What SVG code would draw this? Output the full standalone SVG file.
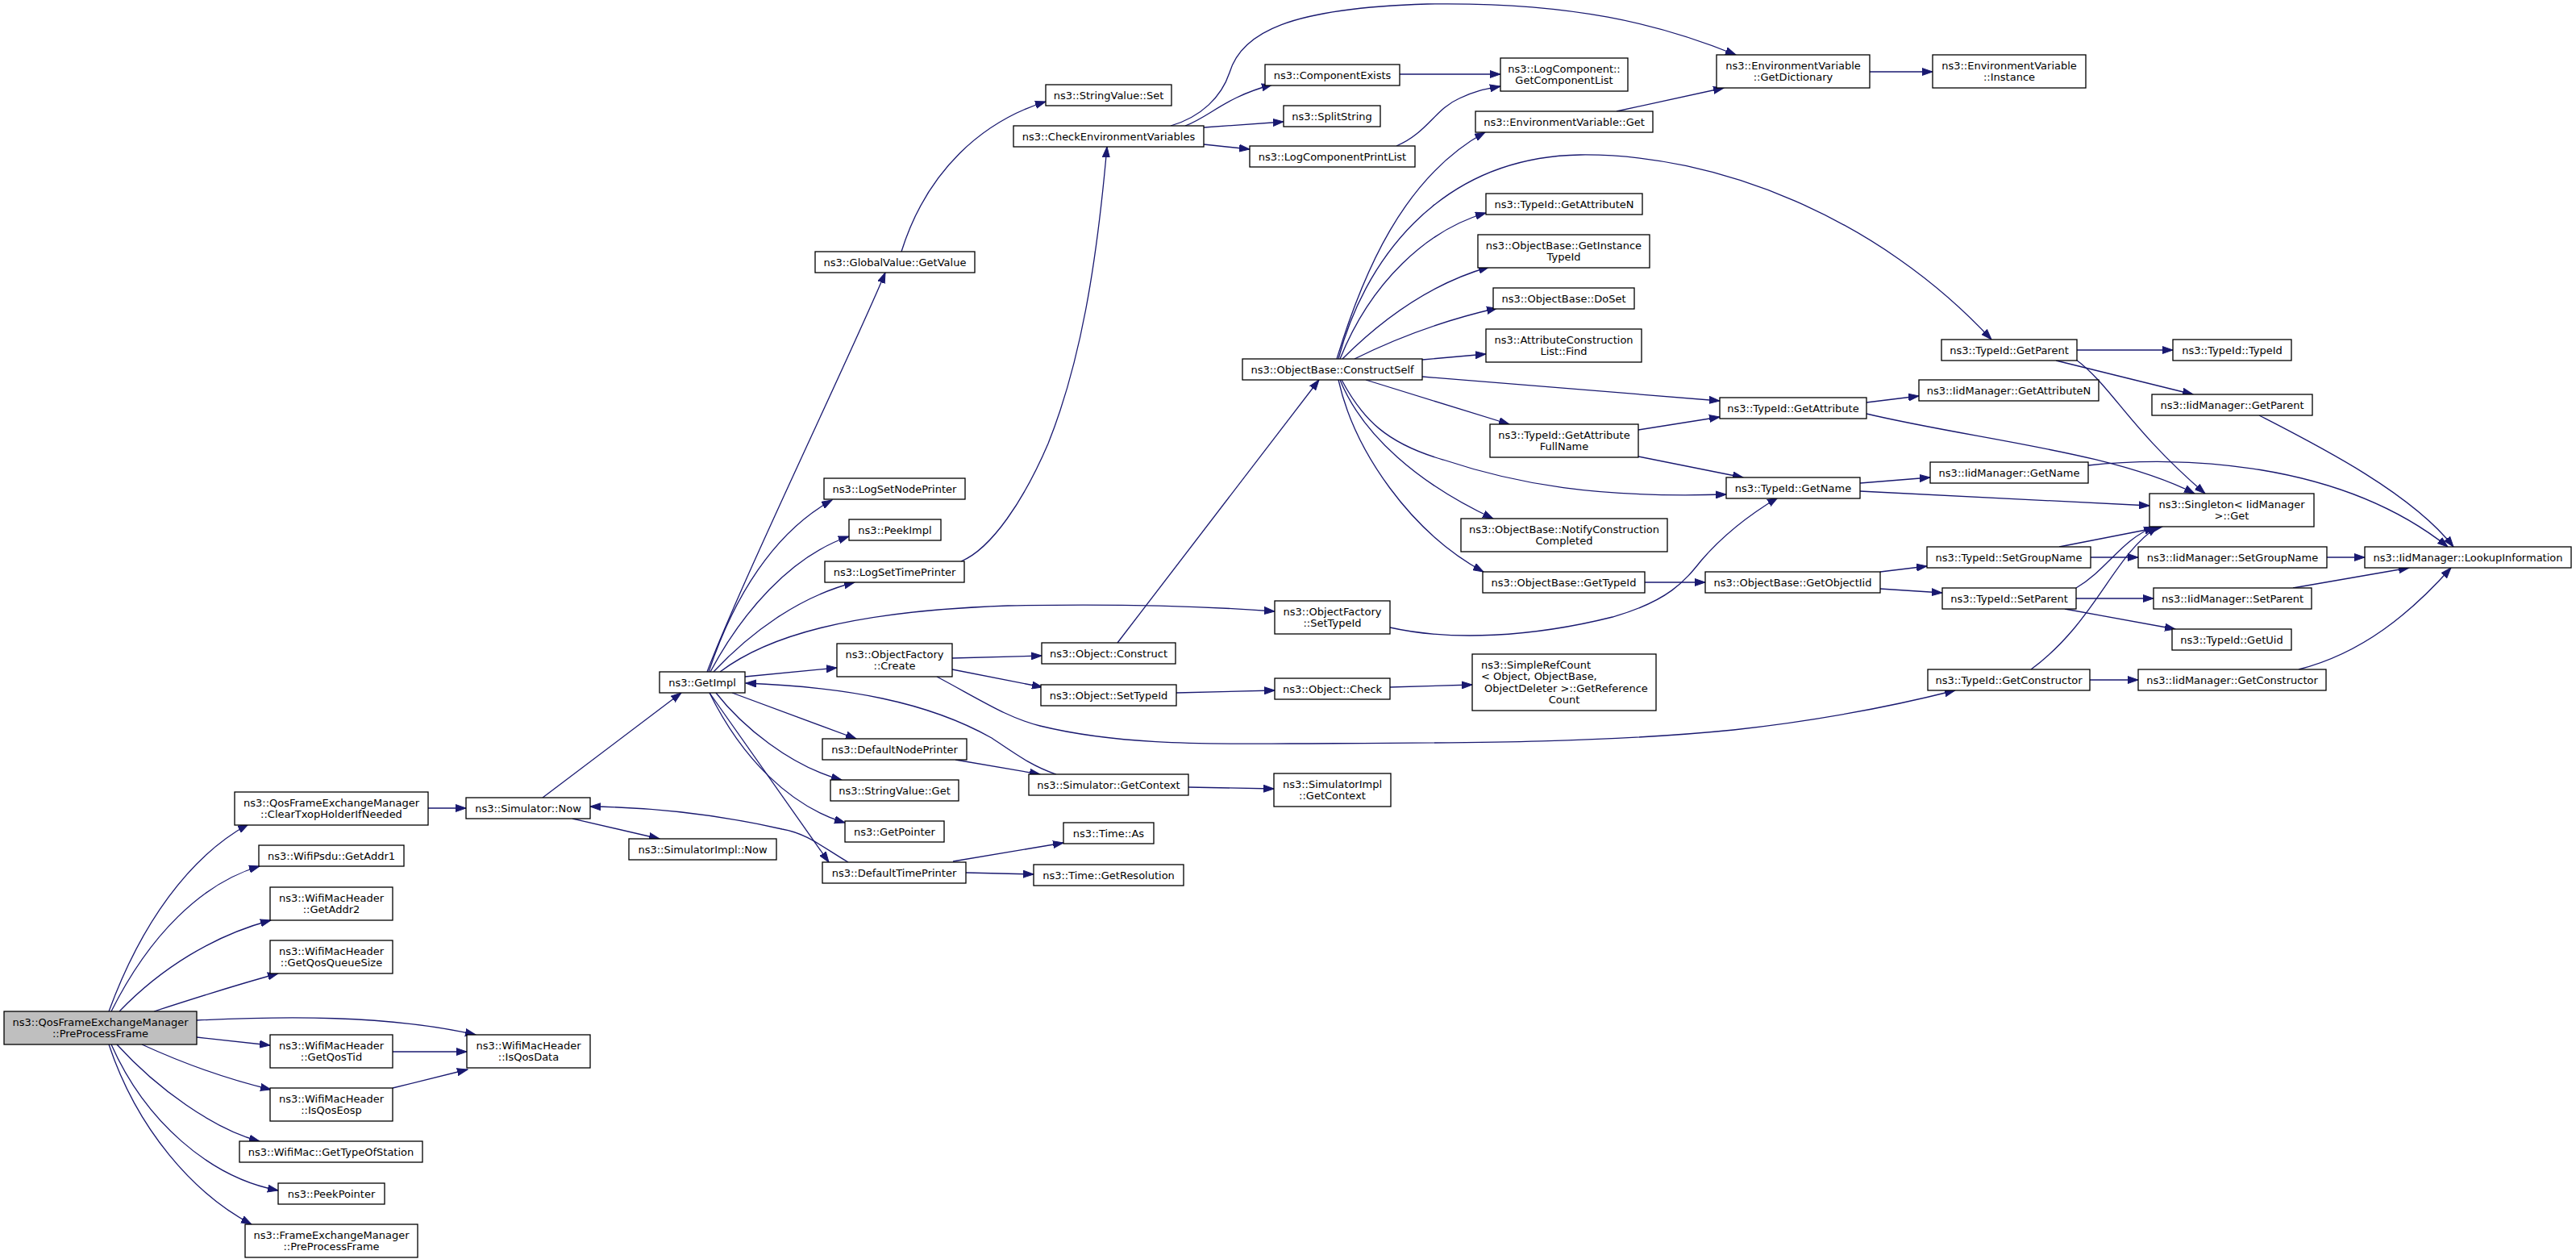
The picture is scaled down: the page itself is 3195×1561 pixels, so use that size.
<svg xmlns="http://www.w3.org/2000/svg" width="3195" height="1561" viewBox="0 0 3195 1561">
<defs>
<marker id="a" markerWidth="14" markerHeight="10" refX="13" refY="5" orient="auto" markerUnits="userSpaceOnUse"><path d="M0,0.5 L13,5 L0,9.5 z" fill="#191970" stroke="#191970" stroke-width="1"/></marker>
<style>
.node rect{fill:#ffffff;stroke:#000000;stroke-width:1.3}
.node.root rect{fill:#bfbfbf}
.node text{font-family:"DejaVu Sans","Liberation Sans",sans-serif;font-size:13px;fill:#000000;text-anchor:middle}
.node text.l{text-anchor:start}
#edges path{fill:none;stroke:#191970;stroke-width:1.3;marker-end:url(#a)}
</style>
</defs>
<rect x="0" y="0" width="3195" height="1561" fill="#ffffff"/>
<g id="edges">
<path d="M135,1254 C175,1145 235,1062 308,1022"/>
<path d="M138,1254 C185,1160 250,1095 322,1074"/>
<path d="M148,1254 C200,1200 265,1160 336,1141"/>
<path d="M191,1254 C240,1238 290,1222 345,1207"/>
<path d="M244,1265 C350,1260 480,1258 590,1283"/>
<path d="M244,1286 L335,1296"/>
<path d="M176,1295 C235,1322 290,1340 336,1351"/>
<path d="M145,1295 C195,1350 265,1400 322,1415"/>
<path d="M138,1295 C180,1390 260,1460 345,1476"/>
<path d="M135,1295 C170,1400 240,1480 312,1518"/>
<path d="M487,1304 L579,1304"/>
<path d="M487,1349 L580,1326"/>
<path d="M531,1002 L578,1002"/>
<path d="M673,989 L845,859"/>
<path d="M710,1015 L818,1040"/>
<path d="M1052,1069 C1020,1050 1000,1033 970,1028 C900,1012 820,1001 732,1000"/>
<path d="M877,833 C920,720 1060,430 1098,338"/>
<path d="M879,833 C910,740 960,660 1032,620"/>
<path d="M881,833 C920,760 980,690 1053,665"/>
<path d="M885,833 C930,785 990,740 1060,722"/>
<path d="M893,833 C950,790 1050,758 1250,751 C1400,748 1500,752 1581,758"/>
<path d="M924,839 L1038,828"/>
<path d="M1310,960 C1280,950 1260,935 1230,915 C1150,870 1050,852 925,847"/>
<path d="M1185,942 L1290,960"/>
<path d="M908,859 L1062,916"/>
<path d="M888,859 C920,900 980,950 1044,967"/>
<path d="M880,859 C920,940 980,1000 1048,1020"/>
<path d="M880,859 L1028,1069"/>
<path d="M1181,816 L1292,813"/>
<path d="M1181,830 L1293,852"/>
<path d="M1162,839 C1220,870 1250,890 1290,900 C1380,922 1480,923 1600,922 C1800,921 1980,922 2150,905 C2260,893 2350,875 2425,856"/>
<path d="M1386,797 L1636,471"/>
<path d="M1459,859 L1581,856"/>
<path d="M1724,852 L1826,849"/>
<path d="M1724,778 C1800,795 1900,790 2000,765 C2070,745 2090,720 2110,695 C2140,660 2175,635 2205,617"/>
<path d="M2032,533 L2133,517"/>
<path d="M2032,566 L2162,592"/>
<path d="M2040,722 L2115,722"/>
<path d="M1658,445 C1690,340 1740,220 1842,164"/>
<path d="M1660,445 C1690,330 1780,195 1960,192 C2130,190 2330,270 2470,421"/>
<path d="M1662,445 C1700,350 1770,285 1843,264"/>
<path d="M1665,445 C1720,390 1780,350 1847,331"/>
<path d="M1680,445 C1740,415 1800,395 1857,382"/>
<path d="M1764,446 L1843,439"/>
<path d="M1764,467 L2133,497"/>
<path d="M1694,471 L1872,526"/>
<path d="M1664,471 C1690,520 1720,550 1790,570 C1880,600 1980,618 2141,613"/>
<path d="M1662,471 C1690,540 1760,600 1852,643"/>
<path d="M1660,471 C1680,560 1750,660 1840,709"/>
<path d="M2332,709 L2390,702"/>
<path d="M2332,730 L2409,735"/>
<path d="M2576,434 L2695,434"/>
<path d="M2550,447 L2720,489"/>
<path d="M2575,446 C2620,480 2640,530 2735,612"/>
<path d="M2315,499 L2380,491"/>
<path d="M2315,513 C2450,545 2620,560 2722,612"/>
<path d="M2802,515 C2870,550 2990,610 3043,678"/>
<path d="M2307,599 L2394,592"/>
<path d="M2307,609 L2666,627"/>
<path d="M2590,577 C2700,565 2900,570 3036,678"/>
<path d="M2554,678 L2682,653"/>
<path d="M2593,691 L2652,691"/>
<path d="M2886,691 L2933,691"/>
<path d="M2575,729 C2615,705 2630,670 2672,653"/>
<path d="M2575,742 L2671,742"/>
<path d="M2561,755 L2698,780"/>
<path d="M2844,729 L2988,704"/>
<path d="M2519,830 C2600,770 2620,690 2676,653"/>
<path d="M2592,843 L2652,843"/>
<path d="M2851,830 C2930,810 2990,760 3040,704"/>
<path d="M1118,312 C1150,210 1220,150 1297,126"/>
<path d="M1470,156 C1500,145 1520,120 1578,105"/>
<path d="M1452,156 C1490,145 1515,120 1525,90 C1540,40 1600,10 1770,5 C1950,2 2060,30 2153,68"/>
<path d="M1493,158 L1592,151"/>
<path d="M1493,179 L1550,185"/>
<path d="M1736,92 L1861,92"/>
<path d="M1732,181 C1770,165 1780,135 1810,122 C1830,112 1845,110 1861,107"/>
<path d="M2005,138 L2138,109"/>
<path d="M2319,89 L2397,89"/>
<path d="M1192,696 C1230,680 1270,620 1300,550 C1340,450 1360,330 1373,182"/>
<path d="M1182,1068 L1319,1045"/>
<path d="M1198,1082 L1282,1084"/>
<path d="M1474,976 L1580,978"/>
</g>
<g id="n_ppf" class="node root"><rect x="5" y="1254" width="239" height="41"/><text x="124.5" y="1271.75">ns3::QosFrameExchangeManager</text><text x="124.5" y="1286.25">::PreProcessFrame</text></g>
<g id="n_clear" class="node"><rect x="291" y="982" width="240" height="41"/><text x="411" y="999.75">ns3::QosFrameExchangeManager</text><text x="411" y="1014.25">::ClearTxopHolderIfNeeded</text></g>
<g id="n_simnow" class="node"><rect x="578" y="989" width="154" height="26"/><text x="655" y="1006.5">ns3::Simulator::Now</text></g>
<g id="n_simimplnow" class="node"><rect x="780" y="1040" width="183" height="26"/><text x="871.5" y="1057.5">ns3::SimulatorImpl::Now</text></g>
<g id="n_getaddr1" class="node"><rect x="321" y="1048" width="180" height="26"/><text x="411" y="1065.5">ns3::WifiPsdu::GetAddr1</text></g>
<g id="n_getaddr2" class="node"><rect x="335" y="1100" width="152" height="41"/><text x="411" y="1117.75">ns3::WifiMacHeader</text><text x="411" y="1132.25">::GetAddr2</text></g>
<g id="n_queuesize" class="node"><rect x="335" y="1166" width="152" height="41"/><text x="411" y="1183.75">ns3::WifiMacHeader</text><text x="411" y="1198.25">::GetQosQueueSize</text></g>
<g id="n_isqosdata" class="node"><rect x="579" y="1283" width="153" height="41"/><text x="655.5" y="1300.75">ns3::WifiMacHeader</text><text x="655.5" y="1315.25">::IsQosData</text></g>
<g id="n_qostid" class="node"><rect x="335" y="1283" width="152" height="41"/><text x="411" y="1300.75">ns3::WifiMacHeader</text><text x="411" y="1315.25">::GetQosTid</text></g>
<g id="n_qoseosp" class="node"><rect x="335" y="1349" width="152" height="41"/><text x="411" y="1366.75">ns3::WifiMacHeader</text><text x="411" y="1381.25">::IsQosEosp</text></g>
<g id="n_typeofstation" class="node"><rect x="297" y="1415" width="227" height="26"/><text x="410.5" y="1432.5">ns3::WifiMac::GetTypeOfStation</text></g>
<g id="n_peekpointer" class="node"><rect x="345" y="1467" width="132" height="26"/><text x="411" y="1484.5">ns3::PeekPointer</text></g>
<g id="n_femppf" class="node"><rect x="304" y="1518" width="214" height="41"/><text x="411" y="1535.75">ns3::FrameExchangeManager</text><text x="411" y="1550.25">::PreProcessFrame</text></g>
<g id="n_getimpl" class="node"><rect x="818" y="833" width="106" height="26"/><text x="871" y="850.5">ns3::GetImpl</text></g>
<g id="n_globalvalue" class="node"><rect x="1011" y="312" width="198" height="26"/><text x="1110" y="329.5">ns3::GlobalValue::GetValue</text></g>
<g id="n_stringset" class="node"><rect x="1297" y="105" width="156" height="26"/><text x="1375" y="122.5">ns3::StringValue::Set</text></g>
<g id="n_checkenv" class="node"><rect x="1257" y="156" width="236" height="26"/><text x="1375" y="173.5">ns3::CheckEnvironmentVariables</text></g>
<g id="n_compexists" class="node"><rect x="1569" y="80" width="167" height="26"/><text x="1652.5" y="97.5">ns3::ComponentExists</text></g>
<g id="n_splitstring" class="node"><rect x="1592" y="131" width="120" height="26"/><text x="1652" y="148.5">ns3::SplitString</text></g>
<g id="n_logcompprint" class="node"><rect x="1550" y="181" width="205" height="26"/><text x="1652.5" y="198.5">ns3::LogComponentPrintList</text></g>
<g id="n_getcomplist" class="node"><rect x="1861" y="72" width="158" height="41"/><text x="1940" y="89.75">ns3::LogComponent::</text><text x="1940" y="104.25">GetComponentList</text></g>
<g id="n_envget" class="node"><rect x="1830" y="138" width="220" height="26"/><text x="1940" y="155.5">ns3::EnvironmentVariable::Get</text></g>
<g id="n_getdict" class="node"><rect x="2129" y="68" width="190" height="41"/><text x="2224" y="85.75">ns3::EnvironmentVariable</text><text x="2224" y="100.25">::GetDictionary</text></g>
<g id="n_instance" class="node"><rect x="2397" y="68" width="190" height="41"/><text x="2492" y="85.75">ns3::EnvironmentVariable</text><text x="2492" y="100.25">::Instance</text></g>
<g id="n_lognode" class="node"><rect x="1022" y="593" width="175" height="26"/><text x="1109.5" y="610.5">ns3::LogSetNodePrinter</text></g>
<g id="n_peekimpl" class="node"><rect x="1053" y="644" width="114" height="26"/><text x="1110" y="661.5">ns3::PeekImpl</text></g>
<g id="n_logtime" class="node"><rect x="1023" y="696" width="173" height="26"/><text x="1109.5" y="713.5">ns3::LogSetTimePrinter</text></g>
<g id="n_ofsettypeid" class="node"><rect x="1581" y="745" width="143" height="41"/><text x="1652.5" y="762.75">ns3::ObjectFactory</text><text x="1652.5" y="777.25">::SetTypeId</text></g>
<g id="n_ofcreate" class="node"><rect x="1038" y="798" width="143" height="41"/><text x="1109.5" y="815.75">ns3::ObjectFactory</text><text x="1109.5" y="830.25">::Create</text></g>
<g id="n_objconstruct" class="node"><rect x="1292" y="797" width="166" height="26"/><text x="1375" y="814.5">ns3::Object::Construct</text></g>
<g id="n_objsettypeid" class="node"><rect x="1291" y="849" width="168" height="26"/><text x="1375" y="866.5">ns3::Object::SetTypeId</text></g>
<g id="n_objcheck" class="node"><rect x="1581" y="841" width="143" height="26"/><text x="1652.5" y="858.5">ns3::Object::Check</text></g>
<g id="n_simpleref" class="node"><rect x="1826" y="811" width="228" height="70"/><text class="l" x="1837" y="828.75">ns3::SimpleRefCount</text><text class="l" x="1837" y="843.25">&lt; Object, ObjectBase,</text><text class="l" x="1841" y="857.75">ObjectDeleter &gt;::GetReference</text><text x="1940" y="872.25">Count</text></g>
<g id="n_defnode" class="node"><rect x="1020" y="916" width="179" height="26"/><text x="1109.5" y="933.5">ns3::DefaultNodePrinter</text></g>
<g id="n_simgetctx" class="node"><rect x="1276" y="960" width="198" height="26"/><text x="1375" y="977.5">ns3::Simulator::GetContext</text></g>
<g id="n_simimplctx" class="node"><rect x="1580" y="959" width="145" height="41"/><text x="1652.5" y="976.75">ns3::SimulatorImpl</text><text x="1652.5" y="991.25">::GetContext</text></g>
<g id="n_stringget" class="node"><rect x="1030" y="967" width="159" height="26"/><text x="1109.5" y="984.5">ns3::StringValue::Get</text></g>
<g id="n_getpointer" class="node"><rect x="1048" y="1018" width="123" height="26"/><text x="1109.5" y="1035.5">ns3::GetPointer</text></g>
<g id="n_timeas" class="node"><rect x="1319" y="1020" width="112" height="26"/><text x="1375" y="1037.5">ns3::Time::As</text></g>
<g id="n_deftime" class="node"><rect x="1020" y="1069" width="178" height="26"/><text x="1109" y="1086.5">ns3::DefaultTimePrinter</text></g>
<g id="n_timeres" class="node"><rect x="1282" y="1072" width="186" height="26"/><text x="1375" y="1089.5">ns3::Time::GetResolution</text></g>
<g id="n_constructself" class="node"><rect x="1541" y="445" width="223" height="26"/><text x="1652.5" y="462.5">ns3::ObjectBase::ConstructSelf</text></g>
<g id="n_getattrn" class="node"><rect x="1843" y="240" width="194" height="26"/><text x="1940" y="257.5">ns3::TypeId::GetAttributeN</text></g>
<g id="n_getinsttypeid" class="node"><rect x="1833" y="291" width="213" height="41"/><text x="1939.5" y="308.75">ns3::ObjectBase::GetInstance</text><text x="1939.5" y="323.25">TypeId</text></g>
<g id="n_doset" class="node"><rect x="1852" y="357" width="175" height="26"/><text x="1939.5" y="374.5">ns3::ObjectBase::DoSet</text></g>
<g id="n_acfind" class="node"><rect x="1843" y="408" width="193" height="41"/><text x="1939.5" y="425.75">ns3::AttributeConstruction</text><text x="1939.5" y="440.25">List::Find</text></g>
<g id="n_fullname" class="node"><rect x="1848" y="526" width="184" height="41"/><text x="1940" y="543.75">ns3::TypeId::GetAttribute</text><text x="1940" y="558.25">FullName</text></g>
<g id="n_notify" class="node"><rect x="1812" y="643" width="256" height="41"/><text x="1940" y="660.75">ns3::ObjectBase::NotifyConstruction</text><text x="1940" y="675.25">Completed</text></g>
<g id="n_obgettypeid" class="node"><rect x="1839" y="709" width="201" height="26"/><text x="1939.5" y="726.5">ns3::ObjectBase::GetTypeId</text></g>
<g id="n_tgetparent" class="node"><rect x="2408" y="421" width="168" height="26"/><text x="2492" y="438.5">ns3::TypeId::GetParent</text></g>
<g id="n_ttypeid" class="node"><rect x="2695" y="421" width="147" height="26"/><text x="2768.5" y="438.5">ns3::TypeId::TypeId</text></g>
<g id="n_igetattrn" class="node"><rect x="2380" y="471" width="223" height="26"/><text x="2491.5" y="488.5">ns3::IidManager::GetAttributeN</text></g>
<g id="n_tgetattr" class="node"><rect x="2133" y="493" width="182" height="26"/><text x="2224" y="510.5">ns3::TypeId::GetAttribute</text></g>
<g id="n_igetparent" class="node"><rect x="2669" y="489" width="199" height="26"/><text x="2768.5" y="506.5">ns3::IidManager::GetParent</text></g>
<g id="n_igetname" class="node"><rect x="2394" y="573" width="196" height="26"/><text x="2492" y="590.5">ns3::IidManager::GetName</text></g>
<g id="n_tgetname" class="node"><rect x="2141" y="592" width="166" height="26"/><text x="2224" y="609.5">ns3::TypeId::GetName</text></g>
<g id="n_singleton" class="node"><rect x="2666" y="612" width="204" height="41"/><text x="2768" y="629.75">ns3::Singleton&lt; IidManager</text><text x="2768" y="644.25">&gt;::Get</text></g>
<g id="n_tsetgroup" class="node"><rect x="2390" y="678" width="203" height="26"/><text x="2491.5" y="695.5">ns3::TypeId::SetGroupName</text></g>
<g id="n_isetgroup" class="node"><rect x="2652" y="678" width="234" height="26"/><text x="2769" y="695.5">ns3::IidManager::SetGroupName</text></g>
<g id="n_lookup" class="node"><rect x="2933" y="678" width="256" height="26"/><text x="3061" y="695.5">ns3::IidManager::LookupInformation</text></g>
<g id="n_getobjectiid" class="node"><rect x="2115" y="709" width="217" height="26"/><text x="2223.5" y="726.5">ns3::ObjectBase::GetObjectIid</text></g>
<g id="n_tsetparent" class="node"><rect x="2409" y="729" width="166" height="26"/><text x="2492" y="746.5">ns3::TypeId::SetParent</text></g>
<g id="n_isetparent" class="node"><rect x="2671" y="729" width="196" height="26"/><text x="2769" y="746.5">ns3::IidManager::SetParent</text></g>
<g id="n_tgetuid" class="node"><rect x="2694" y="780" width="148" height="26"/><text x="2768" y="797.5">ns3::TypeId::GetUid</text></g>
<g id="n_tgetctor" class="node"><rect x="2391" y="830" width="201" height="26"/><text x="2491.5" y="847.5">ns3::TypeId::GetConstructor</text></g>
<g id="n_igetctor" class="node"><rect x="2652" y="830" width="233" height="26"/><text x="2768.5" y="847.5">ns3::IidManager::GetConstructor</text></g>
</svg>
